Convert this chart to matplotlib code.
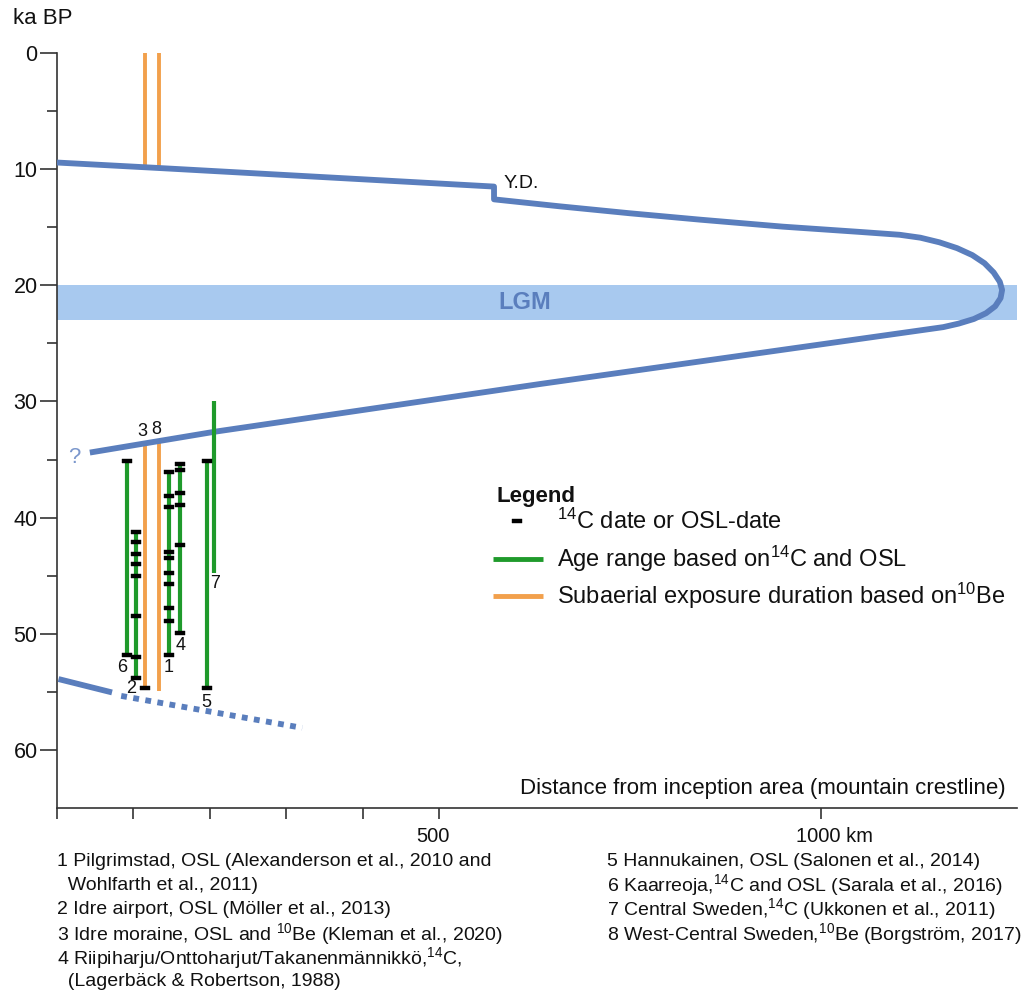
import matplotlib
matplotlib.use("Agg")
import matplotlib.pyplot as plt
from matplotlib.lines import Line2D
import matplotlib.transforms as mtransforms

plt.rcParams['font.family'] = ['Liberation Sans', 'DejaVu Sans']
plt.rcParams['mathtext.fontset'] = 'custom'
plt.rcParams['mathtext.rm'] = 'Liberation Sans'
plt.rcParams['mathtext.it'] = 'Liberation Sans:italic'
plt.rcParams['mathtext.bf'] = 'Liberation Sans:bold'

# ---------------- data ----------------
# ice-sheet margin (distance km, age ka BP)
margin_km = [0, 133, 572, 572, 658, 750, 842, 950, 1050, 1103, 1130, 1155, 1178, 1198,
             1214, 1226, 1234, 1237, 1235, 1228, 1216, 1200, 1180, 1160, 632, 207, 43]
margin_ka = [9.43, 9.9, 11.5, 12.6, 13.2, 13.8, 14.35, 14.95, 15.4, 15.65, 15.9, 16.3,
             16.8, 17.4, 18.1, 18.9, 19.7, 20.4, 21.1, 21.8, 22.4, 22.9, 23.3, 23.6,
             28.5, 32.6, 34.4]

# older margin (solid + dashed)
old_solid_km = [2, 72]
old_solid_ka = [53.9, 55.05]
old_dash_km = [84, 321]
old_dash_ka = [55.35, 58.1]

lgm_ka = (20, 23)

# age ranges (green)
green_sites = ['6', '2', '1', '4', '5', '7']
green_km = [92, 104, 146, 161, 196, 206]
green_top = [35.1, 41.2, 36.1, 35.4, 35.1, 30.0]
green_bot = [51.8, 53.8, 51.8, 49.9, 54.7, 44.8]

# exposure durations (orange)
orange_sites = ['3', '8']
orange_km = [115, 133.5]
orange_upper_top = [0, 0]
orange_upper_bot = [9.8, 9.8]
orange_lower_top = [33.5, 33.3]
orange_lower_bot = [54.8, 54.9]

# individual dates (black)
date_km = ([92] * 2 + [104] * 8 + [146] * 10 + [161] * 6 + [196] * 2 + [115])
date_ka = ([35.1, 51.8] +
           [41.2, 42.1, 43.1, 44.0, 45.0, 48.5, 52.0, 53.8] +
           [36.1, 38.1, 39.1, 43.0, 43.5, 44.8, 45.7, 47.8, 48.9, 51.8] +
           [35.4, 35.9, 37.9, 38.9, 42.4, 49.9] +
           [35.1, 54.7] +
           [54.7])

# site number labels
label_txt = ['6', '2', '1', '4', '5', '7', '3', '8']
label_km = [85, 97, 146, 162, 196, 207, 112, 130]
label_ka = [52.9, 54.7, 52.9, 51.0, 55.9, 45.7, 32.6, 32.4]

legend_labels = ['$^{14}$C date or OSL-date', 'Age range based on$^{14}$C and OSL',
                 'Subaerial exposure duration based on$^{10}$Be']

footnotes_left = [
    "1 Pilgrimstad, OSL (Alexanderson et al., 2010 and",
    "  Wohlfarth et al., 2011)",
    "2 Idre airport, OSL (Möller et al., 2013)",
    "3 Idre moraine, OSL and $^{10}$Be (Kleman et al., 2020)",
    "4 Riipiharju/Onttoharjut/Takanenmännikkö,$^{14}$C,",
    "  (Lagerbäck & Robertson, 1988)",
]
footnotes_right = [
    "5 Hannukainen, OSL (Salonen et al., 2014)",
    "6 Kaarreoja,$^{14}$C and OSL (Sarala et al., 2016)",
    "7 Central Sweden,$^{14}$C (Ukkonen et al., 2011)",
    "8 West-Central Sweden,$^{10}$Be (Borgström, 2017)",
]

BLUE = '#5A7EBD'
LGM_COL = '#A8C9EF'
GREEN = '#1F9A2B'
ORANGE = '#F2A04C'
AX_COL = '#333333'
TXT = '#111111'

# ---------------- figure ----------------
W, H = 1027, 998
fig = plt.figure(figsize=(W / 100, H / 100), dpi=100)
ax = fig.add_axes([57 / W, 1 - 808 / H, (1017 - 57) / W, (808 - 53) / H])
ax.set_xlim(0, 1256.5)
ax.set_ylim(65, 0)

for s in ['top', 'right']:
    ax.spines[s].set_visible(False)
for s in ['left', 'bottom']:
    ax.spines[s].set_color(AX_COL)
    ax.spines[s].set_linewidth(1.2)

ax.set_yticks([0, 10, 20, 30, 40, 50, 60])
ax.set_yticks([5, 15, 25, 35, 45, 55], minor=True)
ax.tick_params(axis='y', which='major', length=12, width=1.2, color=AX_COL,
               labelsize=15.5, pad=2, labelcolor=TXT)
ax.tick_params(axis='y', which='minor', length=7, width=1.2, color=AX_COL)

ax.set_xticks([0, 100, 200, 300, 400, 500, 1000])
ax.set_xticklabels(['', '', '', '', '', '500', '1000 km'])
ax.tick_params(axis='x', which='major', length=8, width=1.2, color=AX_COL,
               labelsize=14.5, pad=6, labelcolor=TXT)
lab = ax.get_xticklabels()[-1]
lab.set_horizontalalignment('left')
lab.set_transform(lab.get_transform() +
                  mtransforms.ScaledTranslation(-25 / 100, 0, fig.dpi_scale_trans))
lab5 = ax.get_xticklabels()[5]
lab5.set_transform(lab5.get_transform() +
                   mtransforms.ScaledTranslation(-6 / 100, 0, fig.dpi_scale_trans))

# LGM band
ax.axhspan(lgm_ka[0], lgm_ka[1], color=LGM_COL, lw=0, zorder=0)
ax.text(612, sum(lgm_ka) / 2, 'LGM', color=BLUE, fontsize=17, fontweight='bold',
        ha='center', va='center', zorder=1)

# margin lines
ax.plot(margin_km, margin_ka, color=BLUE, lw=4.2, solid_joinstyle='round',
        solid_capstyle='butt', zorder=3)
ax.plot(old_solid_km, old_solid_ka, color=BLUE, lw=4.2, solid_capstyle='butt', zorder=3)
ax.plot(old_dash_km, old_dash_ka, color=BLUE, lw=4.2, dashes=(1.0, 1.1),
        dash_capstyle='butt', zorder=3)

# orange bars
for x, t, b in zip(orange_km, orange_upper_top, orange_upper_bot):
    ax.plot([x, x], [t, b], color=ORANGE, lw=2.8, solid_capstyle='butt', zorder=2)
for x, t, b in zip(orange_km, orange_lower_top, orange_lower_bot):
    ax.plot([x, x], [t, b], color=ORANGE, lw=2.8, solid_capstyle='butt', zorder=2)

# green bars
for x, t, b in zip(green_km, green_top, green_bot):
    ax.plot([x, x], [t, b], color=GREEN, lw=3.0, solid_capstyle='butt', zorder=4)

rect = [(-1, -0.5), (1, -0.5), (1, 0.5), (-1, 0.5), (-1, -0.5)]
ax.plot(date_km, date_ka, ls='none', marker=rect, markersize=6.5,
        color='black', markeredgewidth=0.3, zorder=5)

for t, x, y in zip(label_txt, label_km, label_ka):
    ax.text(x, y, t, fontsize=13, ha='center', va='center', color=TXT, zorder=6)

ax.text(584, 11.2, 'Y.D.', fontsize=14, ha='left', va='center', color=TXT)
ax.text(23, 34.8, '?', fontsize=16, ha='center', va='center', color='#7B97CC')
ax.text(1241, 63.3, 'Distance from inception area (mountain crestline)', fontsize=16,
        ha='right', va='center', color=TXT)

fig.text(13 / W, 1 - 19 / H, 'ka BP', fontsize=16, ha='left', va='center', color=TXT)

# legend (drawn manually for exact placement)
fig.text(496 / W, 1 - 496 / H, 'Legend', fontsize=16, fontweight='bold',
         ha='left', va='center', color=TXT)
row_y = [521, 559, 596]
fig.add_artist(Line2D([517 / W], [1 - row_y[0] / H], ls='none', marker=rect,
                      markersize=6.5, color='black', markeredgewidth=0.3,
                      transform=fig.transFigure))
fig.add_artist(Line2D([493 / W, 543 / W], [1 - row_y[1] / H] * 2, color=GREEN, lw=3.5,
                      solid_capstyle='butt', transform=fig.transFigure))
fig.add_artist(Line2D([493 / W, 543 / W], [1 - row_y[2] / H] * 2, color=ORANGE, lw=3.5,
                      solid_capstyle='butt', transform=fig.transFigure))
for y, t in zip(row_y, legend_labels):
    fig.text(557 / W, 1 - y / H, t, fontsize=17, ha='left', va='center', color=TXT)

# footnotes
for i, t in enumerate(footnotes_left):
    fig.text(57 / W, 1 - (861 + 24.2 * i) / H, t, fontsize=14, ha='left', va='center',
             color=TXT)
for i, t in enumerate(footnotes_right):
    fig.text(607 / W, 1 - (861 + 24.2 * i) / H, t, fontsize=14, ha='left', va='center',
             color=TXT)

fig.savefig('out.png', dpi=100)
